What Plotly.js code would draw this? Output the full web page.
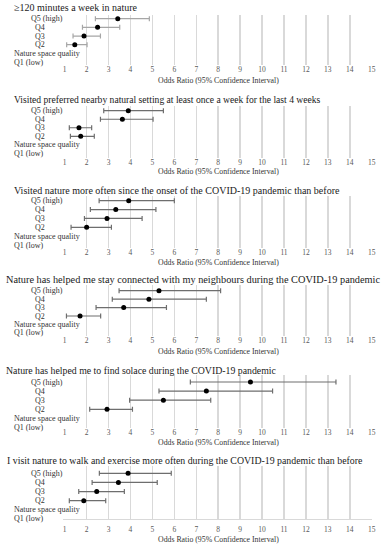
<!DOCTYPE html>
<html>
<head>
<meta charset="utf-8">
<script src="https://cdn.plot.ly/plotly-3.0.1.min.js"></script>
<style>html,body{margin:0;padding:0;background:#fff;}#chart{width:381px;height:550px;}</style>
</head>
<body>
<div id="chart"></div>
<script>
// ---- data ----
const categories = ['Q1 (low)', 'Nature space quality', 'Q2', 'Q3', 'Q4', 'Q5 (high)'];
const groups = ['Q5 (high)', 'Q4', 'Q3', 'Q2'];
const xTicks = [1,2,3,4,5,6,7,8,9,10,11,12,13,14,15];
const xTitle = 'Odds Ratio (95% Confidence Interval)';

const title1 = '≥120 minutes a week in nature';
const or1 = [3.42, 2.50, 1.88, 1.46];
const lo1 = [2.40, 1.81, 1.38, 1.09];
const hi1 = [4.86, 3.51, 2.63, 2.02];

const title2 = 'Visited preferred nearby natural setting at least once a week for the last 4 weeks';
const or2 = [3.90, 3.63, 1.65, 1.73];
const lo2 = [2.78, 2.63, 1.21, 1.26];
const hi2 = [5.50, 5.03, 2.23, 2.35];

const title3 = 'Visited nature more often since the onset of the COVID-19 pandemic than before';
const or3 = [3.92, 3.33, 2.93, 2.00];
const lo3 = [2.57, 2.17, 1.90, 1.29];
const hi3 = [6.00, 5.16, 4.53, 3.13];

const title4 = 'Nature has helped me stay connected with my neighbours during the COVID-19 pandemic';
const or4 = [5.30, 4.84, 3.69, 1.70];
const lo4 = [3.48, 3.17, 2.43, 1.08];
const hi4 = [8.11, 7.46, 5.64, 2.64];

const title5 = 'Nature has helped me to find solace during the COVID-19 pandemic';
const or5 = [9.47, 7.46, 5.50, 2.93];
const lo5 = [6.73, 5.30, 3.96, 2.14];
const hi5 = [13.37, 10.48, 7.66, 4.09];

const title6 = 'I visit nature to walk and exercise more often during the COVID-19 pandemic than before';
const or6 = [3.89, 3.45, 2.46, 1.87];
const lo6 = [2.58, 2.25, 1.64, 1.21];
const hi6 = [5.86, 5.22, 3.72, 2.87];

const titles = [title1, title2, title3, title4, title5, title6];
const ors = [or1, or2, or3, or4, or5, or6];
const los = [lo1, lo2, lo3, lo4, lo5, lo6];
const his = [hi1, hi2, hi3, hi4, hi5, hi6];

// ---- layout geometry (pixels from top) ----
const W = 381, H = 550;
const X0 = 64.7, X1 = 371.7;
const geom = [
  {title: 7.3,   tsize: 10,   tx: 11.7, top: 15,  bottom: 65,  q5: 18.7,  q2: 44.7,  xt: 80,    ebc: '#a6a6a6'},
  {title: 99.3,  tsize: 9.6,  tx: 11.7, top: 106, bottom: 158, q5: 110.7, q2: 136.3, xt: 171,   ebc: '#6e6e6e'},
  {title: 190,   tsize: 10,   tx: 11.7, top: 196, bottom: 248, q5: 200.7, q2: 227.3, xt: 262,   ebc: '#6e6e6e'},
  {title: 280,   tsize: 10.3, tx: 4,    top: 285, bottom: 336, q5: 290.7, q2: 316,   xt: 351,   ebc: '#6e6e6e'},
  {title: 370.3, tsize: 9.8,  tx: 4,    top: 375, bottom: 428, q5: 382,   q2: 409.3, xt: 442.7, ebc: '#6e6e6e'},
  {title: 460.7, tsize: 9.85, tx: 5,    top: 466, bottom: 519, q5: 473.3, q2: 500.7, xt: 539.7, ebc: '#6e6e6e'}
];

const FONT = 'Liberation Serif, Times New Roman, serif';
const traces = [];
const layout = {
  width: W, height: H,
  margin: {l: 0, r: 0, t: 0, b: 0},
  paper_bgcolor: '#fff', plot_bgcolor: '#fff',
  showlegend: false,
  font: {family: FONT, color: '#333'},
  annotations: []
};

geom.forEach((g, i) => {
  const k = i + 1;
  const xa = 'x' + (k === 1 ? '' : k), ya = 'y' + (k === 1 ? '' : k);
  const xkey = 'xaxis' + (k === 1 ? '' : k), ykey = 'yaxis' + (k === 1 ? '' : k);
  traces.push({
    type: 'scatter', mode: 'markers',
    x: ors[i], y: groups, xaxis: xa, yaxis: ya,
    marker: {color: '#000', size: 5},
    error_x: {
      type: 'data', symmetric: false,
      array: his[i].map((h, j) => h - ors[i][j]),
      arrayminus: los[i].map((l, j) => ors[i][j] - l),
      color: g.ebc, thickness: 1.2, width: 2.5
    },
    hoverinfo: 'skip'
  });
  const s = (g.q2 - g.q5) / 3;
  layout[xkey] = {
    domain: [X0 / W, X1 / W], anchor: ya,
    range: [1, 15], tickmode: 'array', tickvals: xTicks,
    showgrid: true, gridcolor: '#d9d9d9', gridwidth: 1.5,
    zeroline: false, ticks: '',
    showline: k === 6, linecolor: '#d9d9d9', linewidth: 1,
    tickfont: {size: 7.5, color: '#595959', family: FONT},
    ticklabelstandoff: k === 6 ? 3 : -2
  };
  layout[ykey] = {
    domain: [1 - g.bottom / H, 1 - g.top / H], anchor: xa,
    type: 'category', categoryorder: 'array', categoryarray: categories,
    range: [5 - (g.bottom - g.q5) / s, 5 + (g.q5 - g.top) / s],
    showticklabels: false, showgrid: false, zeroline: false, ticks: '',
    showline: true, linecolor: '#ffffff', linewidth: 2, layer: 'below traces'
  };
  layout.annotations.push({
    xref: 'paper', yref: 'paper', x: g.tx / W, y: 1 - g.title / H,
    xanchor: 'left', yanchor: 'middle', showarrow: false,
    text: titles[i], font: {size: g.tsize, color: '#1a1a1a', family: FONT}
  });
  layout.annotations.push({
    xref: 'paper', yref: 'paper', x: (X0 + X1) / 2 / W, y: 1 - g.xt / H,
    xanchor: 'center', yanchor: 'middle', showarrow: false,
    text: xTitle, font: {size: 7.8, color: '#333', family: FONT}
  });
  categories.forEach((c, ci) => {
    const left = (c === 'Nature space quality' || c === 'Q1 (low)') ? 11.7 : (c === 'Q5 (high)' ? 29 : 33);
    layout.annotations.push({
      xref: 'paper', yref: ya, x: left / W, y: ci,
      xanchor: 'left', yanchor: 'middle', showarrow: false,
      text: c, font: {size: 8, color: '#333', family: FONT}
    });
  });
});

Plotly.newPlot('chart', traces, layout, {displayModeBar: false, staticPlot: true});
</script>
</body>
</html>
